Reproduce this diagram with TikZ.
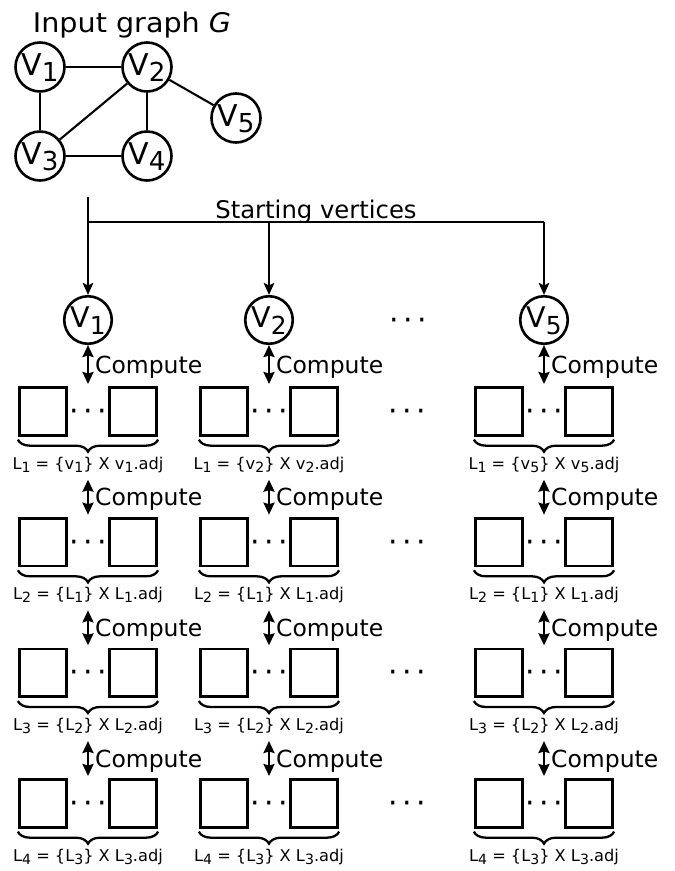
\documentclass[tikz,border=0pt]{standalone}
\usepackage{fontspec}
\setmainfont{DejaVu Sans}
\usepackage{graphicx}
\usetikzlibrary{arrows.meta,decorations.pathreplacing}

% lowered index digit
\newcommand\lsub[2][-0.2em]{\raisebox{#1}{\scalebox{0.87}{#2}}}
\newcommand\threedots{\textperiodcentered\hspace{4.5pt}\textperiodcentered\hspace{4.5pt}\textperiodcentered}

\begin{document}
\begin{tikzpicture}[x=1pt,y=-1pt,
  gnode/.style={draw,circle,line width=2.6pt,minimum size=49pt,inner sep=0pt,
    font=\fontsize{30}{30}\selectfont,text height=21pt,text depth=5pt},
  vnode/.style={draw,circle,line width=2.6pt,minimum size=47.5pt,inner sep=0pt,
    font=\fontsize{28.5}{28.5}\selectfont,text height=20pt,text depth=5pt},
  edge/.style={line width=2.1pt},
  feed/.style={line width=2pt},
  feedarrow/.style={feed,-{Stealth[length=12pt,width=10.5pt,inset=2.5pt]}},
  calc/.style={line width=2.3pt,{Stealth[length=12pt,width=11pt,inset=1.5pt]}-{Stealth[length=12pt,width=11pt,inset=1.5pt]}},
  cmp/.style={anchor=base west,xshift=6pt,yshift=-8.5pt,inner sep=0pt,
    font=\fontsize{23.5}{23.5}\selectfont},
  cell/.style={draw,line width=2.8pt,minimum size=47.5pt,inner sep=0pt},
  dotrow/.style={anchor=base,inner sep=0pt,font=\fontsize{30}{30}\selectfont},
  brc/.style={line width=2.3pt,decorate,decoration={brace,mirror,amplitude=12pt}},
  lbl/.style={anchor=base,inner sep=0pt,font=\fontsize{16.2}{16.2}\selectfont},
  title/.style={anchor=base,inner sep=0pt,font=\fontsize{27}{27}\selectfont}
]
\fill[white] (0,0) rectangle (675,871);

% input graph
\node[title] (gtitle) at (132,32) {\scalebox{1.06}[1]{Input graph \textit{G}}};
\node[gnode] (g1) at (40,67) {V\lsub{1}};
\node[gnode] (g2) at (147,67) {V\lsub{2}};
\node[gnode] (g3) at (40,156) {V\lsub{3}};
\node[gnode] (g4) at (147,156) {V\lsub{4}};
\node[gnode] (g5) at (236,118) {V\lsub{5}};
\draw[edge] (g1) -- (g2);
\draw[edge] (g1) -- (g3);
\draw[edge] (g2) -- (g3);
\draw[edge] (g2) -- (g4);
\draw[edge] (g3) -- (g4);
\draw[edge] (g2) -- (g5);

% starting vertices
\node[anchor=base,inner sep=0pt,font=\fontsize{24.3}{24.3}\selectfont] (stlabel) at (316,218) {Starting vertices};
\node[vnode] (s-1) at (88,320) {V\lsub[-0.25em]{1}};
\node[vnode] (s-2) at (269,320) {V\lsub[-0.25em]{2}};
\node[vnode] (s-3) at (544,320) {V\lsub[-0.25em]{5}};
\node[dotrow] (sdots) at (408,330) {\threedots};
\coordinate (feedtop) at (88,197);
\coordinate (j-1) at (88,222);
\coordinate (j-2) at (269,222);
\coordinate (j-3) at (544,222);
\draw[feed] (j-1) -- (j-3);
\draw[feedarrow] (feedtop) -- (s-1);
\draw[feedarrow] (j-2) -- (s-2);
\draw[feedarrow] (j-3) -- (s-3);

% levels of partial results, one column per starting vertex
\foreach \c/\cx/\k in {1/88/1,2/269/2,3/544/5}{
  \foreach \r in {1,2,3,4}{
    \pgfmathsetmacro\yt{387+130.67*(\r-1)}
    \pgfmathtruncatemacro\p{\r-1}
    \node[cell] (bl-\c-\r) at (\cx-45,\yt+24.5) {};
    \node[cell] (br-\c-\r) at (\cx+45,\yt+24.5) {};
    \node[dotrow] (dt-\c-\r) at (\cx,\yt+34.5) {\threedots};
    \draw[brc] ([yshift=-3pt]bl-\c-\r.south west) -- ([yshift=-3pt]br-\c-\r.south east);
    \node[lbl] (lab-\c-\r) at (\cx,\yt+82)
      {\ifnum\r=1 L\lsub{1} = \{v\lsub{\k}\} X v\lsub{\k}.adj%
       \else L\lsub{\r} = \{L\lsub{\p}\} X L\lsub{\p}.adj\fi};
    \coordinate (in-\c-\r) at (\cx,\yt-3);
    \ifnum\r=1
      \draw[calc] (s-\c) -- node[cmp] {Compute} (in-\c-\r);
    \else
      \coordinate (out-\c-\r) at (\cx,\yt-38);
      \draw[calc] (out-\c-\r) -- node[cmp] {Compute} (in-\c-\r);
    \fi
  }
}
\foreach \r in {1,2,3,4}{
  \pgfmathsetmacro\yt{387+130.67*(\r-1)}
  \node[dotrow] (gap-\r) at (407,\yt+34.5) {\threedots};
}
\end{tikzpicture}
\end{document}
